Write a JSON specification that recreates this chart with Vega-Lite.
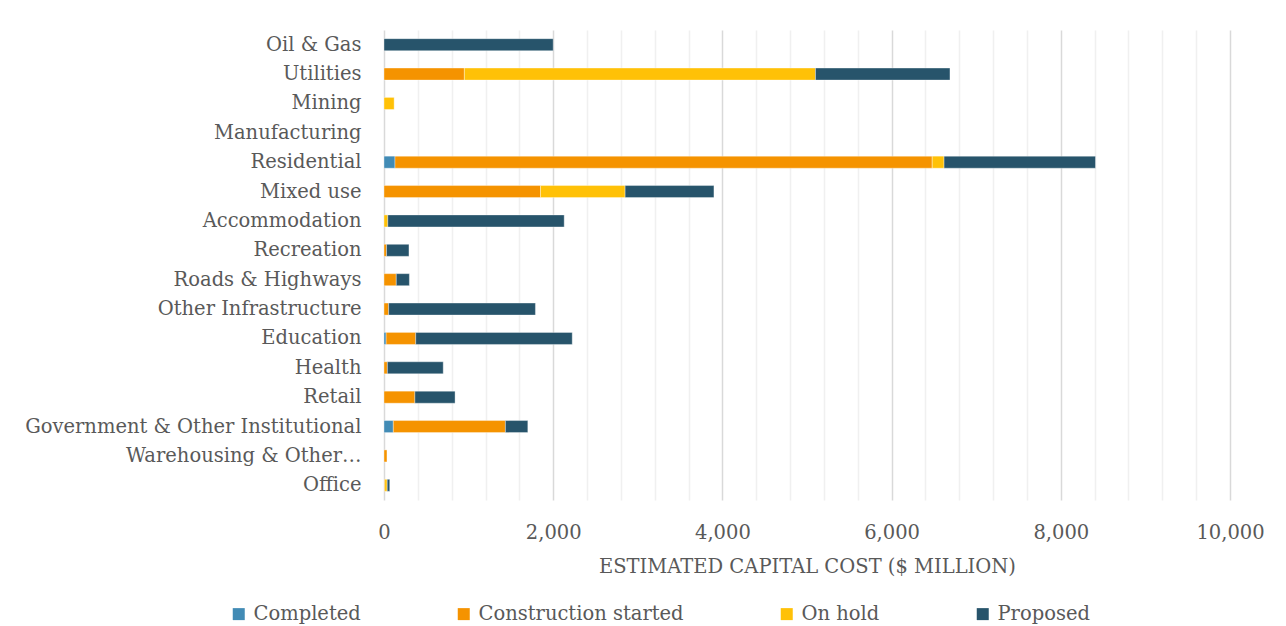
{
  "$schema": "https://vega.github.io/schema/vega-lite/v6.json",
  "autosize": {"type": "none"},
  "padding": {"left": 384, "top": 30, "right": 56, "bottom": 126},
  "width": 846,
  "height": 470,
  "background": "#ffffff",
  "config": {
    "view": {"stroke": null},
    "font": "DejaVu Serif",
    "axis": {"labelFont": "DejaVu Serif", "titleFont": "DejaVu Serif", "labelColor": "#595959", "titleColor": "#595959"},
    "legend": {"labelFont": "DejaVu Serif", "labelColor": "#595959"}
  },
  "data": {
    "values": [
      {"sector": "Oil & Gas", "status": "Proposed", "cost": 2000},
      {"sector": "Utilities", "status": "Construction started", "cost": 950},
      {"sector": "Utilities", "status": "On hold", "cost": 4150},
      {"sector": "Utilities", "status": "Proposed", "cost": 1590},
      {"sector": "Mining", "status": "On hold", "cost": 120},
      {"sector": "Residential", "status": "Completed", "cost": 130},
      {"sector": "Residential", "status": "Construction started", "cost": 6350},
      {"sector": "Residential", "status": "On hold", "cost": 140},
      {"sector": "Residential", "status": "Proposed", "cost": 1790},
      {"sector": "Mixed use", "status": "Construction started", "cost": 1850},
      {"sector": "Mixed use", "status": "On hold", "cost": 1000},
      {"sector": "Mixed use", "status": "Proposed", "cost": 1050},
      {"sector": "Accommodation", "status": "On hold", "cost": 45},
      {"sector": "Accommodation", "status": "Proposed", "cost": 2085},
      {"sector": "Recreation", "status": "Construction started", "cost": 30},
      {"sector": "Recreation", "status": "Proposed", "cost": 265},
      {"sector": "Roads & Highways", "status": "Construction started", "cost": 145},
      {"sector": "Roads & Highways", "status": "Proposed", "cost": 155},
      {"sector": "Other Infrastructure", "status": "Construction started", "cost": 55},
      {"sector": "Other Infrastructure", "status": "Proposed", "cost": 1735},
      {"sector": "Education", "status": "Completed", "cost": 25},
      {"sector": "Education", "status": "Construction started", "cost": 350},
      {"sector": "Education", "status": "Proposed", "cost": 1850},
      {"sector": "Health", "status": "Construction started", "cost": 40},
      {"sector": "Health", "status": "Proposed", "cost": 660},
      {"sector": "Retail", "status": "Construction started", "cost": 365},
      {"sector": "Retail", "status": "Proposed", "cost": 475},
      {"sector": "Government & Other Institutional", "status": "Completed", "cost": 110},
      {"sector": "Government & Other Institutional", "status": "Construction started", "cost": 1325},
      {"sector": "Government & Other Institutional", "status": "Proposed", "cost": 265},
      {"sector": "Warehousing & Other…", "status": "Construction started", "cost": 35},
      {"sector": "Office", "status": "Construction started", "cost": 8},
      {"sector": "Office", "status": "On hold", "cost": 30},
      {"sector": "Office", "status": "Proposed", "cost": 30}
    ]
  },
  "mark": {"type": "bar", "stroke": "#ffffff", "strokeWidth": 0.6, "strokeOpacity": 0.6},
  "encoding": {
    "y": {
      "field": "sector",
      "type": "nominal",
      "scale": {
        "domain": ["Oil & Gas", "Utilities", "Mining", "Manufacturing", "Residential", "Mixed use", "Accommodation", "Recreation", "Roads & Highways", "Other Infrastructure", "Education", "Health", "Retail", "Government & Other Institutional", "Warehousing & Other…", "Office"],
        "paddingInner": 0.59,
        "paddingOuter": 0.295
      },
      "axis": {"title": null, "ticks": false, "domain": false, "labelFontSize": 19.5, "labelPadding": 23, "labelLimit": 400}
    },
    "x": {
      "field": "cost",
      "type": "quantitative",
      "stack": "zero",
      "scale": {"domain": [0, 10000], "nice": false},
      "axis": {
        "title": "ESTIMATED CAPITAL COST ($ MILLION)",
        "titleFontSize": 19.5,
        "titleFontWeight": "normal",
        "titlePadding": 16,
        "values": [0, 400, 800, 1200, 1600, 2000, 2400, 2800, 3200, 3600, 4000, 4400, 4800, 5200, 5600, 6000, 6400, 6800, 7200, 7600, 8000, 8400, 8800, 9200, 9600, 10000],
        "labelExpr": "datum.value % 2000 === 0 ? format(datum.value, ',') : ''",
        "labelFontSize": 19.5,
        "labelPadding": 23,
        "labelFlush": false,
        "labelOverlap": false,
        "ticks": false,
        "domain": false,
        "grid": true,
        "gridWidth": 1.5,
        "gridColor": {"condition": {"test": "datum.value % 2000 === 0", "value": "#D9D9D9"}, "value": "#F0F0F0"}
      }
    },
    "color": {
      "field": "status",
      "type": "nominal",
      "scale": {
        "domain": ["Completed", "Construction started", "On hold", "Proposed"],
        "range": ["#428BB5", "#F59300", "#FFC107", "#27546B"]
      },
      "legend": {
        "title": null,
        "orient": "none",
        "direction": "horizontal",
        "legendX": -155,
        "legendY": 574,
        "symbolType": "square",
        "symbolSize": 144,
        "symbolStrokeWidth": 0,
        "labelFontSize": 19.5,
        "labelOffset": 5,
        "columnPadding": 93,
        "labelLimit": 400
      }
    }
  }
}
